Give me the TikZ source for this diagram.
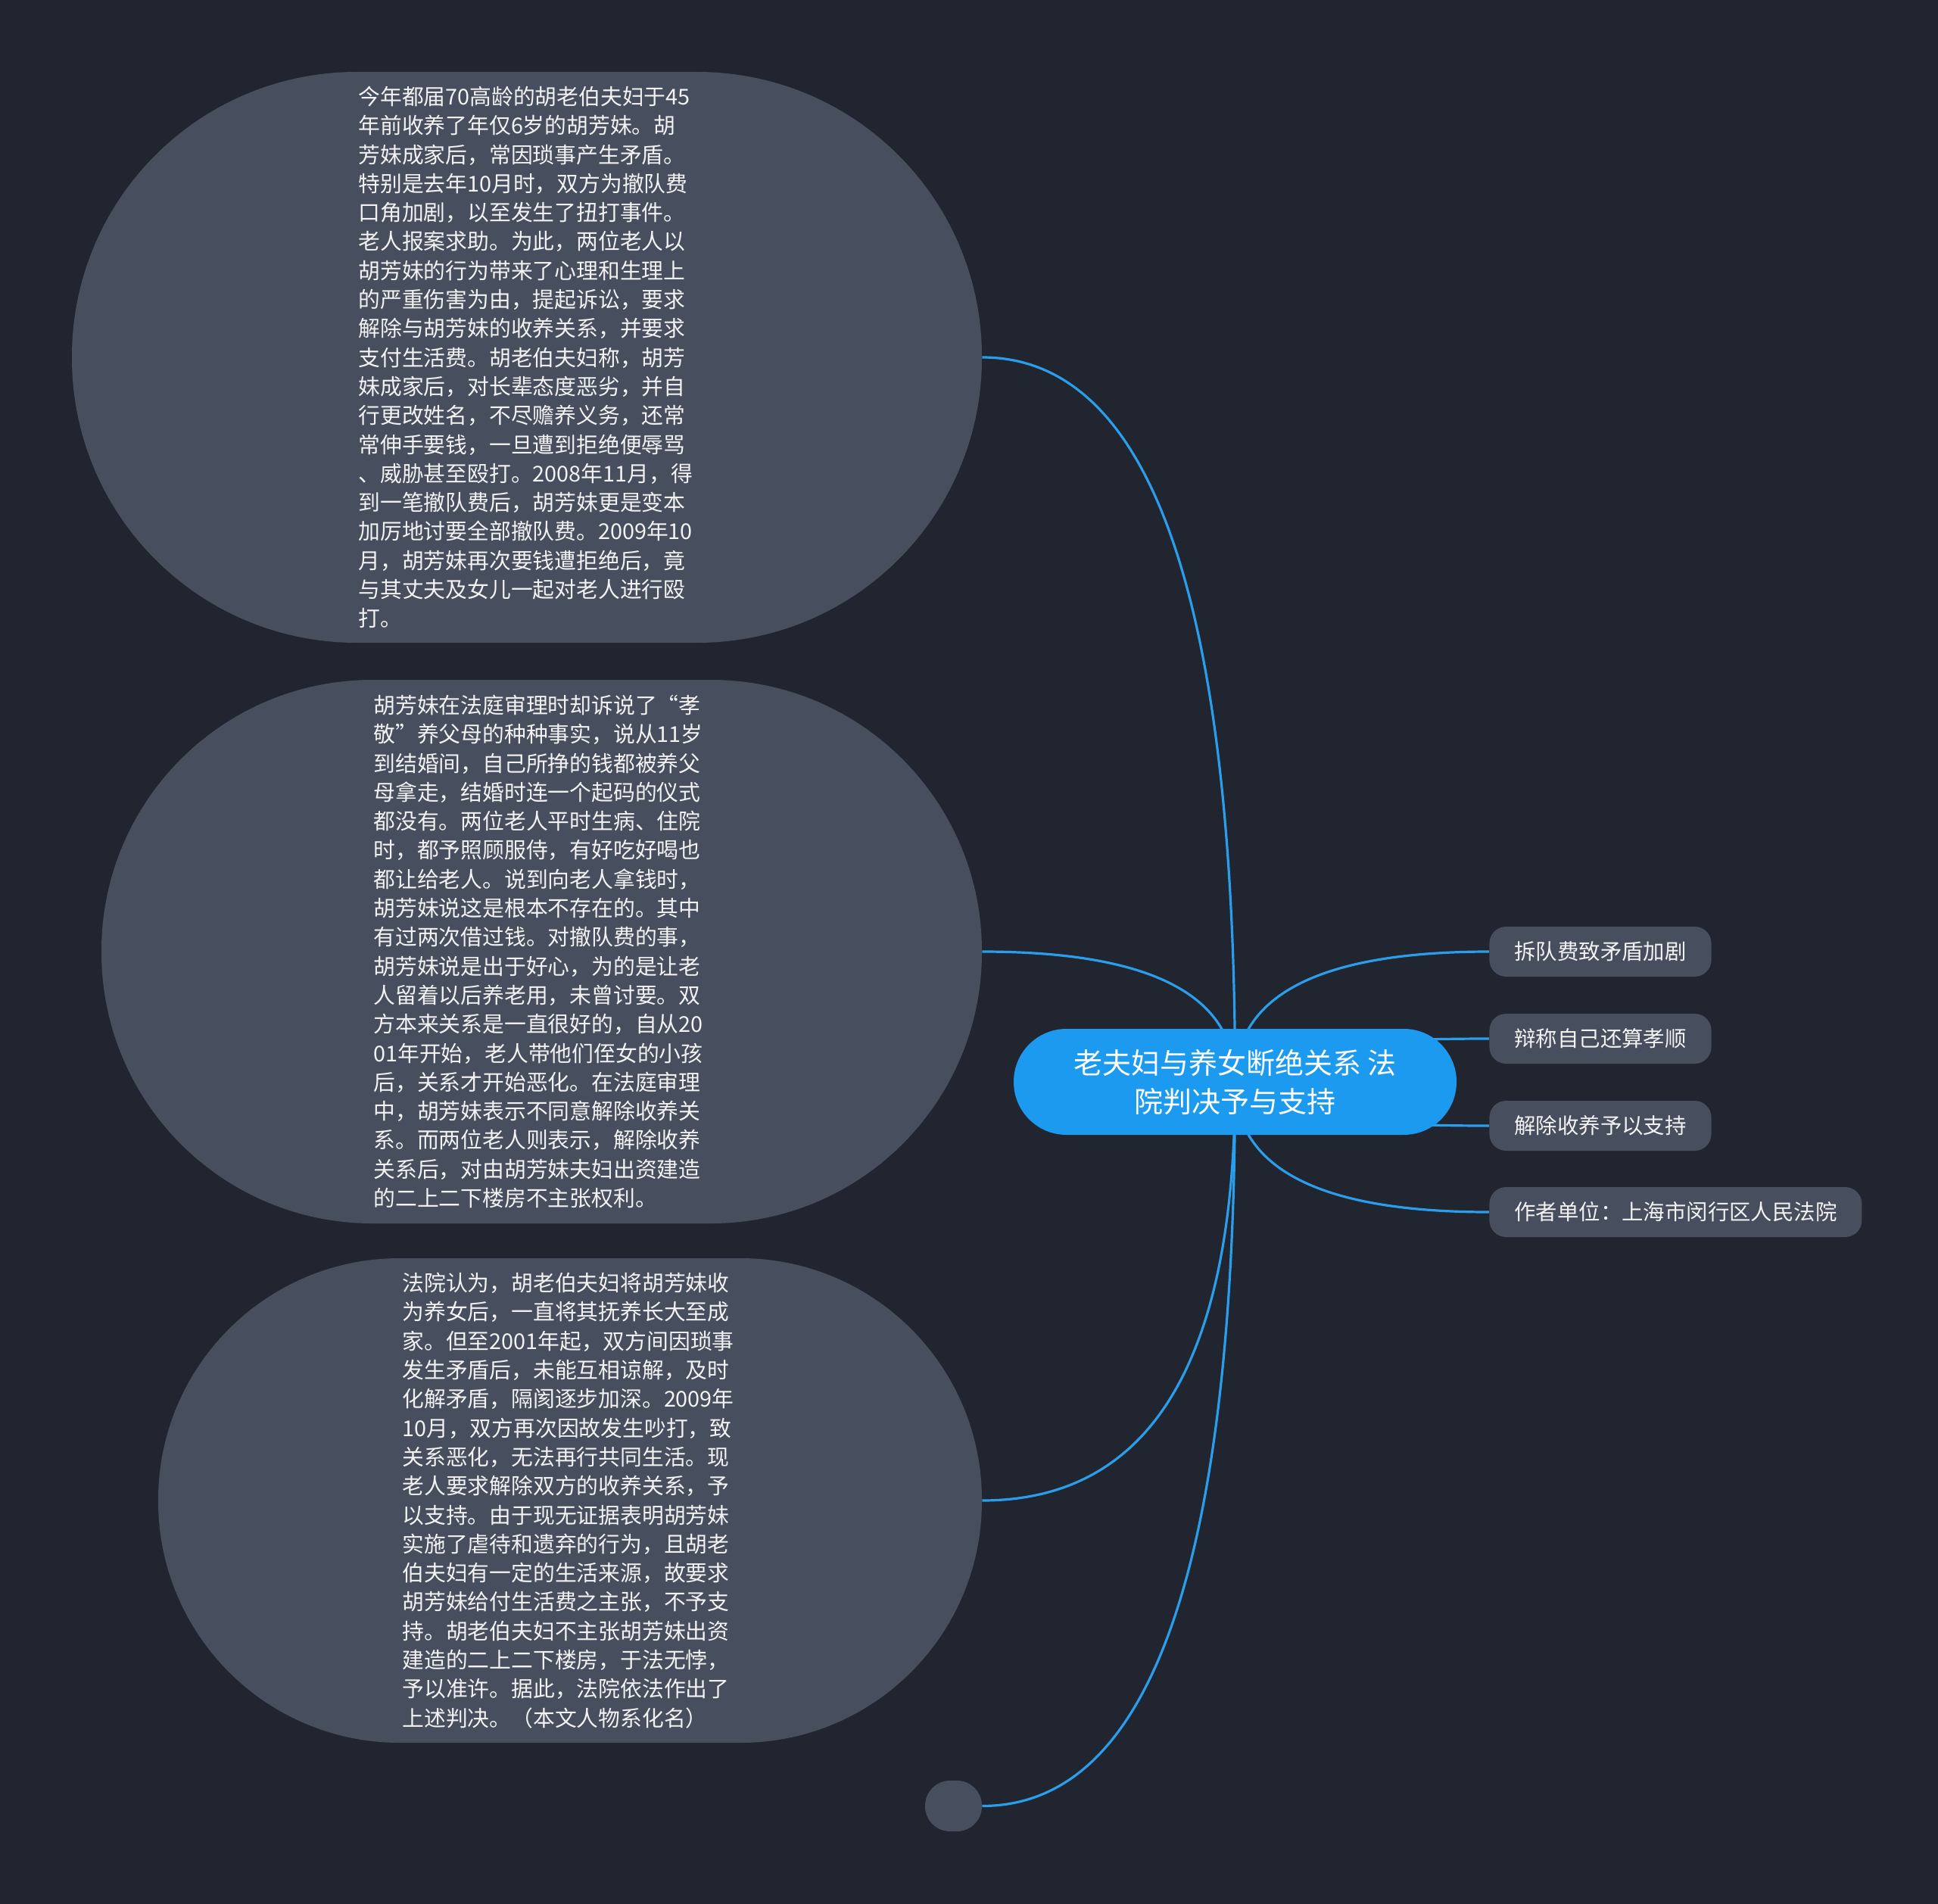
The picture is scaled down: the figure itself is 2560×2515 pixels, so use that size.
\documentclass[tikz,border=0pt]{standalone}
\usepackage{fontspec}
\newfontfamily\cjk{Noto Sans CJK SC}
\usetikzlibrary{calc}
\definecolor{bgc}{HTML}{21252F}
\definecolor{bubblec}{HTML}{474F5E}
\definecolor{rootc}{HTML}{1C9AF0}
\definecolor{linkc}{HTML}{2A9DEB}
\definecolor{txtc}{HTML}{F2F2F2}
\pgfdeclarelayer{bglayer}
\pgfdeclarelayer{edgelayer}
\pgfsetlayers{bglayer,edgelayer,main}
\newcommand\mmlink[2]{%
  \coordinate (#2) at (root.center |- #1);
  \draw[linkline] (root.center) .. controls ($(root.center)!0.6667!(#2)$) and ($(#1)!0.6667!(#2)$) .. (#1);}
\tikzset{
  linkline/.style={draw=linkc, line width=1.6pt},
  bubble/.style={fill=bubblec, draw=none, inner sep=0pt},
  bubbletext/.style={text=txtc, inner sep=0pt, align=left, anchor=west,
    font=\cjk\fontsize{14.4}{19.15}\selectfont},
  leafbox/.style={fill=bubblec, draw=none, rounded corners=11pt, minimum height=33pt,
    inner xsep=16.5pt, inner ysep=0pt, anchor=west, text=txtc,
    font=\cjk\fontsize{14.2}{17}\selectfont},
  rootbox/.style={fill=rootc, draw=none, rounded corners=34.9pt, minimum width=292.5pt,
    minimum height=70pt, inner sep=0pt, align=center, text=white,
    font=\cjk\fontsize{19}{25.5}\selectfont}
}
\begin{document}
\begin{tikzpicture}[x=0.5pt, y=-0.5pt]
\begin{pgfonlayer}{bglayer}
\fill[bgc] (0,0) rectangle (2560,2515);
\end{pgfonlayer}
\useasboundingbox (0,0) rectangle (2560,2515);

% bubbles
\node[bubble, minimum width=601pt, minimum height=377pt, rounded corners=188pt] (b1) at (696,472) {};
\node[bubble, minimum width=581.5pt, minimum height=359pt, rounded corners=179pt] (b2) at (715.5,1257) {};
\node[bubble, minimum width=544pt, minimum height=320pt, rounded corners=159.5pt] (b3) at (753,1982) {};
\node[bubble, minimum width=37.5pt, minimum height=33.5pt, rounded corners=16.5pt] (b4) at (1259.5,2385.5) {};

\node[bubbletext] (t1) at (473,472) {今年都届70高龄的胡老伯夫妇于45\\年前收养了年仅6岁的胡芳妹。胡\\芳妹成家后，常因琐事产生矛盾。\\特别是去年10月时，双方为撤队费\\口角加剧，以至发生了扭打事件。\\老人报案求助。为此，两位老人以\\胡芳妹的行为带来了心理和生理上\\的严重伤害为由，提起诉讼，要求\\解除与胡芳妹的收养关系，并要求\\支付生活费。胡老伯夫妇称，胡芳\\妹成家后，对长辈态度恶劣，并自\\行更改姓名，不尽赡养义务，还常\\常伸手要钱，一旦遭到拒绝便辱骂\\、威胁甚至殴打。2008年11月，得\\到一笔撤队费后，胡芳妹更是变本\\加厉地讨要全部撤队费。2009年10\\月，胡芳妹再次要钱遭拒绝后，竟\\与其丈夫及女儿一起对老人进行殴\\打。};

\node[bubbletext] (t2) at (493,1257) {胡芳妹在法庭审理时却诉说了“孝\\敬”养父母的种种事实，说从11岁\\到结婚间，自己所挣的钱都被养父\\母拿走，结婚时连一个起码的仪式\\都没有。两位老人平时生病、住院\\时，都予照顾服侍，有好吃好喝也\\都让给老人。说到向老人拿钱时，\\胡芳妹说这是根本不存在的。其中\\有过两次借过钱。对撤队费的事，\\胡芳妹说是出于好心，为的是让老\\人留着以后养老用，未曾讨要。双\\方本来关系是一直很好的，自从20\\01年开始，老人带他们侄女的小孩\\后，关系才开始恶化。在法庭审理\\中，胡芳妹表示不同意解除收养关\\系。而两位老人则表示，解除收养\\关系后，对由胡芳妹夫妇出资建造\\的二上二下楼房不主张权利。};

\node[bubbletext] (t3) at (531,1982) {法院认为，胡老伯夫妇将胡芳妹收\\为养女后，一直将其抚养长大至成\\家。但至2001年起，双方间因琐事\\发生矛盾后，未能互相谅解，及时\\化解矛盾，隔阂逐步加深。2009年\\10月，双方再次因故发生吵打，致\\关系恶化，无法再行共同生活。现\\老人要求解除双方的收养关系，予\\以支持。由于现无证据表明胡芳妹\\实施了虐待和遗弃的行为，且胡老\\伯夫妇有一定的生活来源，故要求\\胡芳妹给付生活费之主张，不予支\\持。胡老伯夫妇不主张胡芳妹出资\\建造的二上二下楼房，于法无悖，\\予以准许。据此，法院依法作出了\\上述判决。（本文人物系化名）};

% root
\node[rootbox] (root) at (1631.5,1429) {老夫妇与养女断绝关系 法\\院判决予与支持};

% right leaves
\node[leafbox] (r1) at (1967,1257) {拆队费致矛盾加剧};
\node[leafbox] (r2) at (1967,1372) {辩称自己还算孝顺};
\node[leafbox] (r3) at (1967,1487) {解除收养予以支持};
\node[leafbox] (r4) at (1967,1601) {作者单位：上海市闵行区人民法院};

\begin{pgfonlayer}{edgelayer}
\mmlink{b1.east}{k1}
\mmlink{b2.east}{k2}
\mmlink{b3.east}{k3}
\mmlink{b4.east}{k4}
\mmlink{r1.west}{k5}
\mmlink{r2.west}{k6}
\mmlink{r3.west}{k7}
\mmlink{r4.west}{k8}
\end{pgfonlayer}
\end{tikzpicture}
\end{document}
